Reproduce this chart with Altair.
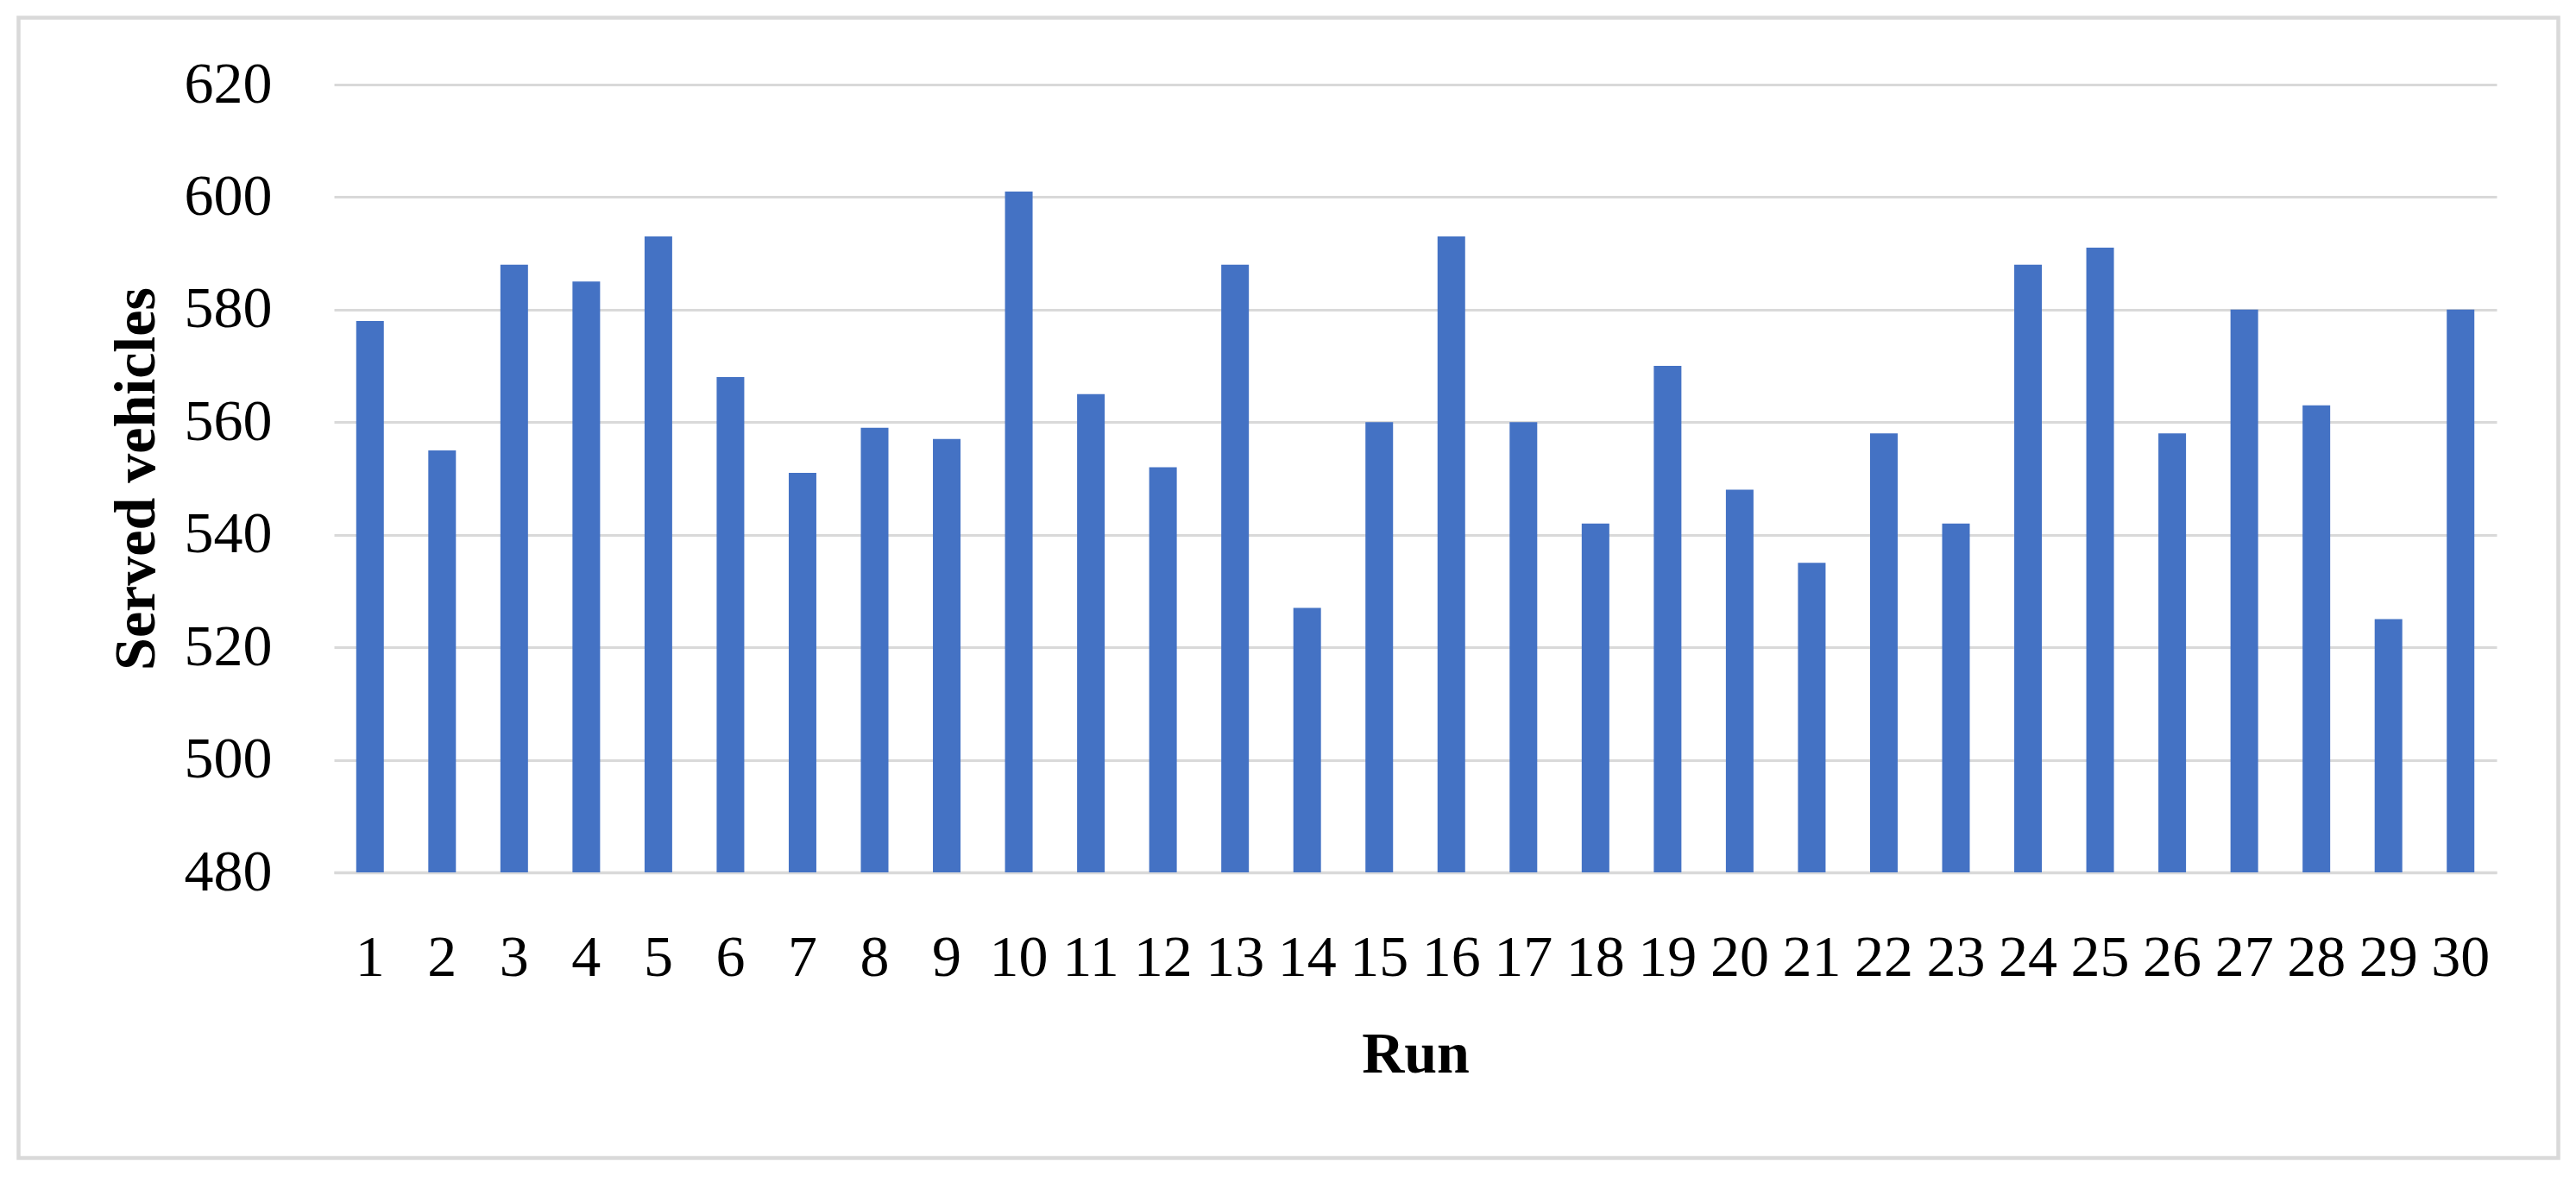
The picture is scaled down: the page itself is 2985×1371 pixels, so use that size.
import altair as alt
import pandas as pd

runs = [str(i) for i in range(1, 31)]
served = [578, 555, 588, 585, 593, 568, 551, 559, 557, 601,
          565, 552, 588, 527, 560, 593, 560, 542, 570, 548,
          535, 558, 542, 588, 591, 558, 580, 563, 525, 580]
y_ticks = [480, 500, 520, 540, 560, 580, 600, 620]

df = pd.DataFrame({"Run": runs, "Served": served})

W = 2506
H = 913
FONT = "Liberation Serif"
GRID = "#d9d9d9"

bars = alt.Chart(df).mark_bar(color="#4472C4").encode(
    x=alt.X("Run:N", sort=runs,
            scale=alt.Scale(paddingInner=0.617, paddingOuter=0.3085),
            axis=alt.Axis(title="Run", labelAngle=0, labelFont=FONT, labelFontSize=68,
                          labelColor="black", labelBaseline="alphabetic", labelPadding=119,
                          ticks=False, tickSize=0, domain=True, domainColor=GRID,
                          domainWidth=3.5, grid=False,
                          titleFont=FONT, titleFontSize=68, titleFontWeight="bold",
                          titleColor="black", titleBaseline="alphabetic",
                          titleX=W / 2, titleY=231, titleAlign="center")),
    y=alt.Y("Served:Q", scale=alt.Scale(domain=[480, 620], zero=False, nice=False),
            axis=alt.Axis(title="Served vehicles", values=y_ticks, labelFont=FONT,
                          labelFontSize=68, labelColor="black", labelPadding=72,
                          ticks=False, tickSize=0, domain=False, grid=True,
                          gridColor=GRID, gridWidth=3,
                          titleFont=FONT, titleFontSize=68, titleFontWeight="bold",
                          titleColor="black", titleAngle=270, titleBaseline="alphabetic",
                          titleAlign="center", titleX=-209, titleY=H / 2)),
    y2=alt.datum(480),
)

border = alt.Chart(pd.DataFrame({"a": [0]})).mark_rect(
    fill=None, stroke=GRID, strokeWidth=4.5, clip=False
).encode(
    x=alt.value(-365.5), x2=alt.value(2577.5),
    y=alt.value(-77.5), y2=alt.value(1244),
)

chart = alt.layer(bars, border).properties(
    width=W, height=H,
    autosize=alt.AutoSizeParams(type="none"),
    padding={"left": 379, "top": 90, "right": 78, "bottom": 342},
    background="white",
).configure_view(stroke=None)

chart.save("out.html", embed_options={"renderer": "svg", "actions": False})
